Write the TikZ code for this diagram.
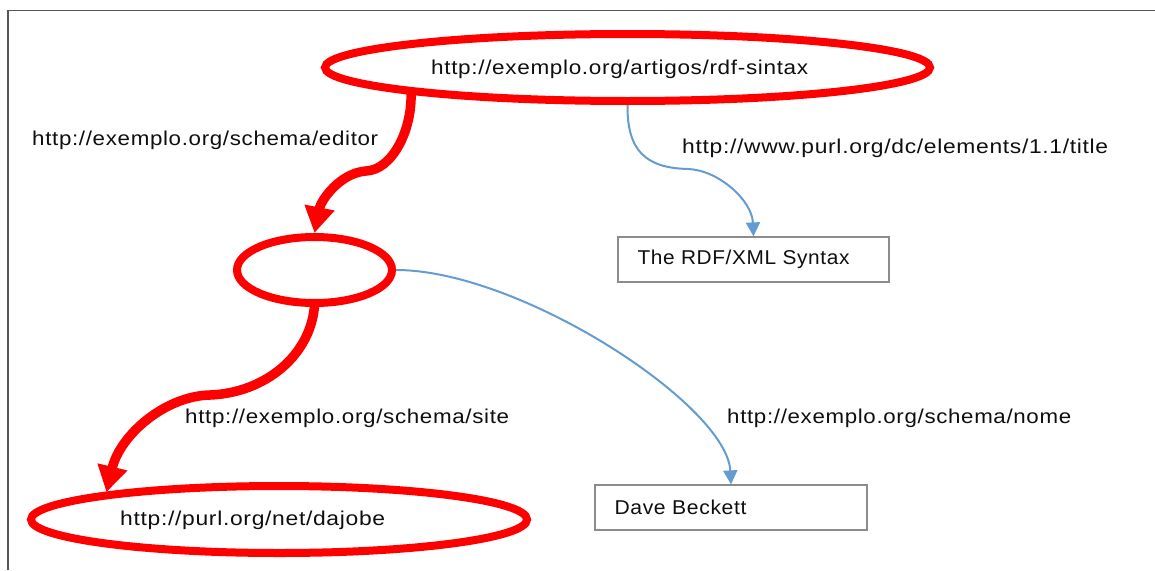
\documentclass[tikz,border=0pt]{standalone}
\usepackage{fontspec}
\setmainfont[LetterSpace=3]{Liberation Sans}
\usetikzlibrary{arrows.meta,shapes.geometric}

\definecolor{uriRed}{RGB}{255,0,0}
\definecolor{litBlue}{RGB}{100,156,210}
\definecolor{boxGray}{RGB}{140,140,140}
\definecolor{frameGray}{RGB}{85,85,85}
\definecolor{inkText}{RGB}{15,15,15}

% set a text to a given width, keeping its natural height
\newcommand{\fitto}[2]{\resizebox{#1pt}{\height}{#2}}

\begin{document}
\begin{tikzpicture}[x=1pt,y=-1pt,
  every node/.style={font=\fontsize{20}{22}\selectfont, text=inkText},
  resource/.style={ellipse, draw=uriRed, line width=8pt, inner sep=0pt},
  literal/.style={rectangle, draw=boxGray, line width=1.2pt, minimum height=45pt,
                  inner xsep=19.5pt, inner ysep=0pt},
  prop/.style={anchor=base west, inner sep=0pt},
  strongarc/.style={draw=uriRed, line width=9.5pt,
                    -{Triangle[length=26pt,width=29pt]}},
  lightarc/.style={draw=litBlue, line width=2pt,
                   -{Triangle[length=14pt,width=14pt]}}]

\useasboundingbox (0,0) rectangle (1155,570);

% page frame (left and top edges)
\draw[frameGray, line width=1.4pt] (8,570) -- (8,10.5) -- (1155,10.5);

% resources
\node[resource, minimum width=605pt, minimum height=67pt] (top) at (627.5,67.5) {};
\node[resource, minimum width=155pt, minimum height=66pt] (mid) at (314.5,270) {};
\node[resource, minimum width=496pt, minimum height=67pt] (bot) at (279,519.5) {};

% literals
\node[literal] (rdf) at (753.5,259.5)
  {\makebox[232pt][l]{\fitto{212}{The RDF/XML Syntax}}};
\node[literal] (dave) at (731,507.5)
  {\makebox[233pt][l]{\fitto{132}{Dave Beckett}}};

% resource names
\node[prop] (uTop) at (431,74) {\fitto{377}{http://exemplo.org/artigos/rdf-sintax}};
\node[prop] (uBot) at (120,525) {\fitto{265}{http://purl.org/net/dajobe}};

% property names
\node[prop] (pEditor) at (32,145) {\fitto{346}{http://exemplo.org/schema/editor}};
\node[prop] (pTitle) at (682,153) {\fitto{426}{http://www.purl.org/dc/elements/1.1/title}};
\node[prop] (pSite) at (185,423.5) {\fitto{324}{http://exemplo.org/schema/site}};
\node[prop] (pNome) at (727,423.5) {\fitto{344}{http://exemplo.org/schema/nome}};

% arcs between resources
\draw[strongarc, shorten <=-4pt] (top.187.1)
  .. controls (413,130) and (392,170) .. (366,171)
  .. controls (340,173) and (321,200) .. (mid.north);
\draw[strongarc, shorten <=-4pt] (mid.south)
  .. controls (312,355) and (265,393) .. (210,395)
  .. controls (165,396) and (120,435) .. (bot.171.4);

% arcs to literals
\draw[lightarc] (top.south)
  .. controls (627,150) and (645,168) .. (688,169)
  .. controls (718,170) and (752,200) .. (rdf.north);
\draw[lightarc] (mid.east)
  .. controls (520,270) and (727,405) .. (dave.north);

\end{tikzpicture}
\end{document}
